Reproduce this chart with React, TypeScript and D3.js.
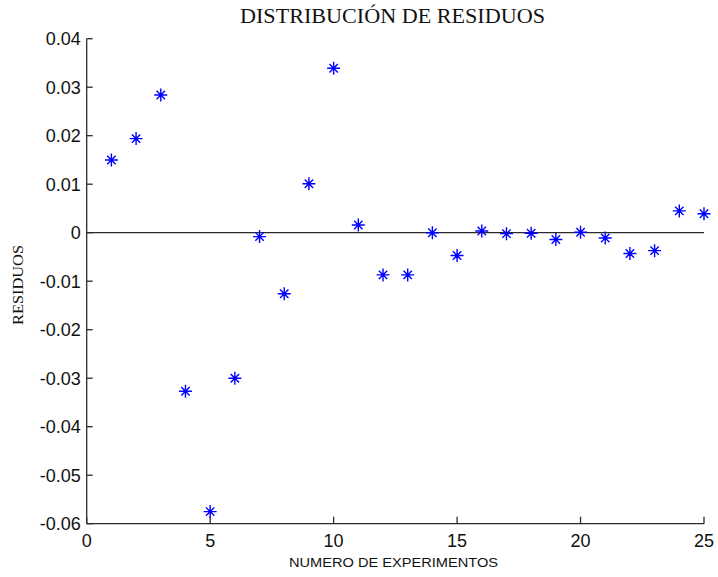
import React from "react";
import * as d3 from "d3";

// Residual of each experiment (experiment number → residual)
const experiments = [1, 2, 3, 4, 5, 6, 7, 8, 9, 10, 11, 12, 13, 14, 15, 16, 17, 18, 19, 20, 21, 22, 23, 24, 25];
const residuals = [
  0.0150, 0.0194, 0.0284, -0.0327, -0.0575, -0.0300, -0.0008, -0.0126, 0.0101, 0.0339,
  0.0016, -0.0087, -0.0087, 0.0000, -0.0047, 0.00035, -0.0002, -0.0001, -0.0014, 0.0001,
  -0.0011, -0.0043, -0.0037, 0.0045, 0.0039,
];
const xTicks = [0, 5, 10, 15, 20, 25];
const yTicks = [0.04, 0.03, 0.02, 0.01, 0, -0.01, -0.02, -0.03, -0.04, -0.05, -0.06];

const W = 718;
const H = 577;
const left = 86.7;
const right = 704;
const top = 38.7;
const bottom = 523.7;

export default function App() {
  const x = d3.scaleLinear().domain([0, 25]).range([left, right]);
  const y = d3.scaleLinear().domain([-0.06, 0.04]).range([bottom, top]);
  const fmt = (v: number) => (v === 0 ? "0" : d3.format(".2f")(v).replace("−", "-"));
  const axisColor = "#2b2b2b";
  const sans = "'Liberation Sans', Arial, sans-serif";
  const serif = "'Liberation Serif', 'DejaVu Serif', serif";

  // MATLAB-style asterisk marker
  const star = (cx: number, cy: number) => {
    const a = 6.5;
    const d = 4.2;
    return `M${cx - a},${cy}H${cx + a}M${cx},${cy - a}V${cy + a}` +
      `M${cx - d},${cy - d}L${cx + d},${cy + d}M${cx - d},${cy + d}L${cx + d},${cy - d}`;
  };

  return (
    <svg width={W} height={H} style={{ position: "absolute", left: 0, top: 0, background: "#fff" }}>
      <rect width={W} height={H} fill="#fff" />
      <text
        x={392.5}
        y={23}
        textAnchor="middle"
        fontFamily={serif}
        fontSize={20}
        fill="#111"
        textLength={305}
        lengthAdjust="spacingAndGlyphs"
      >
        DISTRIBUCIÓN DE RESIDUOS
      </text>

      {/* zero reference line */}
      <line x1={left} x2={right} y1={y(0)} y2={y(0)} stroke={axisColor} strokeWidth={1.3} />

      {/* axes */}
      <line x1={left} x2={left} y1={top} y2={bottom} stroke={axisColor} strokeWidth={1.3} />
      <line x1={left} x2={right} y1={bottom} y2={bottom} stroke={axisColor} strokeWidth={1.3} />

      {yTicks.map((t) => (
        <g key={"y" + t}>
          <line x1={left} x2={left + 6} y1={y(t)} y2={y(t)} stroke={axisColor} strokeWidth={1.3} />
          <text x={left - 6} y={y(t)} dy="0.36em" textAnchor="end" fontFamily={sans} fontSize={18} fill="#111">
            {fmt(t)}
          </text>
        </g>
      ))}
      {xTicks.map((t) => (
        <g key={"x" + t}>
          <line x1={x(t)} x2={x(t)} y1={bottom} y2={bottom - 7} stroke={axisColor} strokeWidth={1.3} />
          <text x={x(t)} y={547} textAnchor="middle" fontFamily={sans} fontSize={18} fill="#111">
            {t}
          </text>
        </g>
      ))}

      <text
        x={393.5}
        y={567}
        textAnchor="middle"
        fontFamily={sans}
        fontSize={13.5}
        fill="#111"
        textLength={209}
        lengthAdjust="spacingAndGlyphs"
      >
        NUMERO DE EXPERIMENTOS
      </text>
      <text
        transform={`translate(23,285) rotate(-90)`}
        textAnchor="middle"
        fontFamily={serif}
        fontSize={15}
        fill="#111"
        textLength={80}
        lengthAdjust="spacingAndGlyphs"
      >
        RESIDUOS
      </text>

      {experiments.map((e, i) => (
        <path key={e} d={star(x(e), y(residuals[i]))} stroke="#0000ff" strokeWidth={1.4} fill="none" />
      ))}
    </svg>
  );
}
